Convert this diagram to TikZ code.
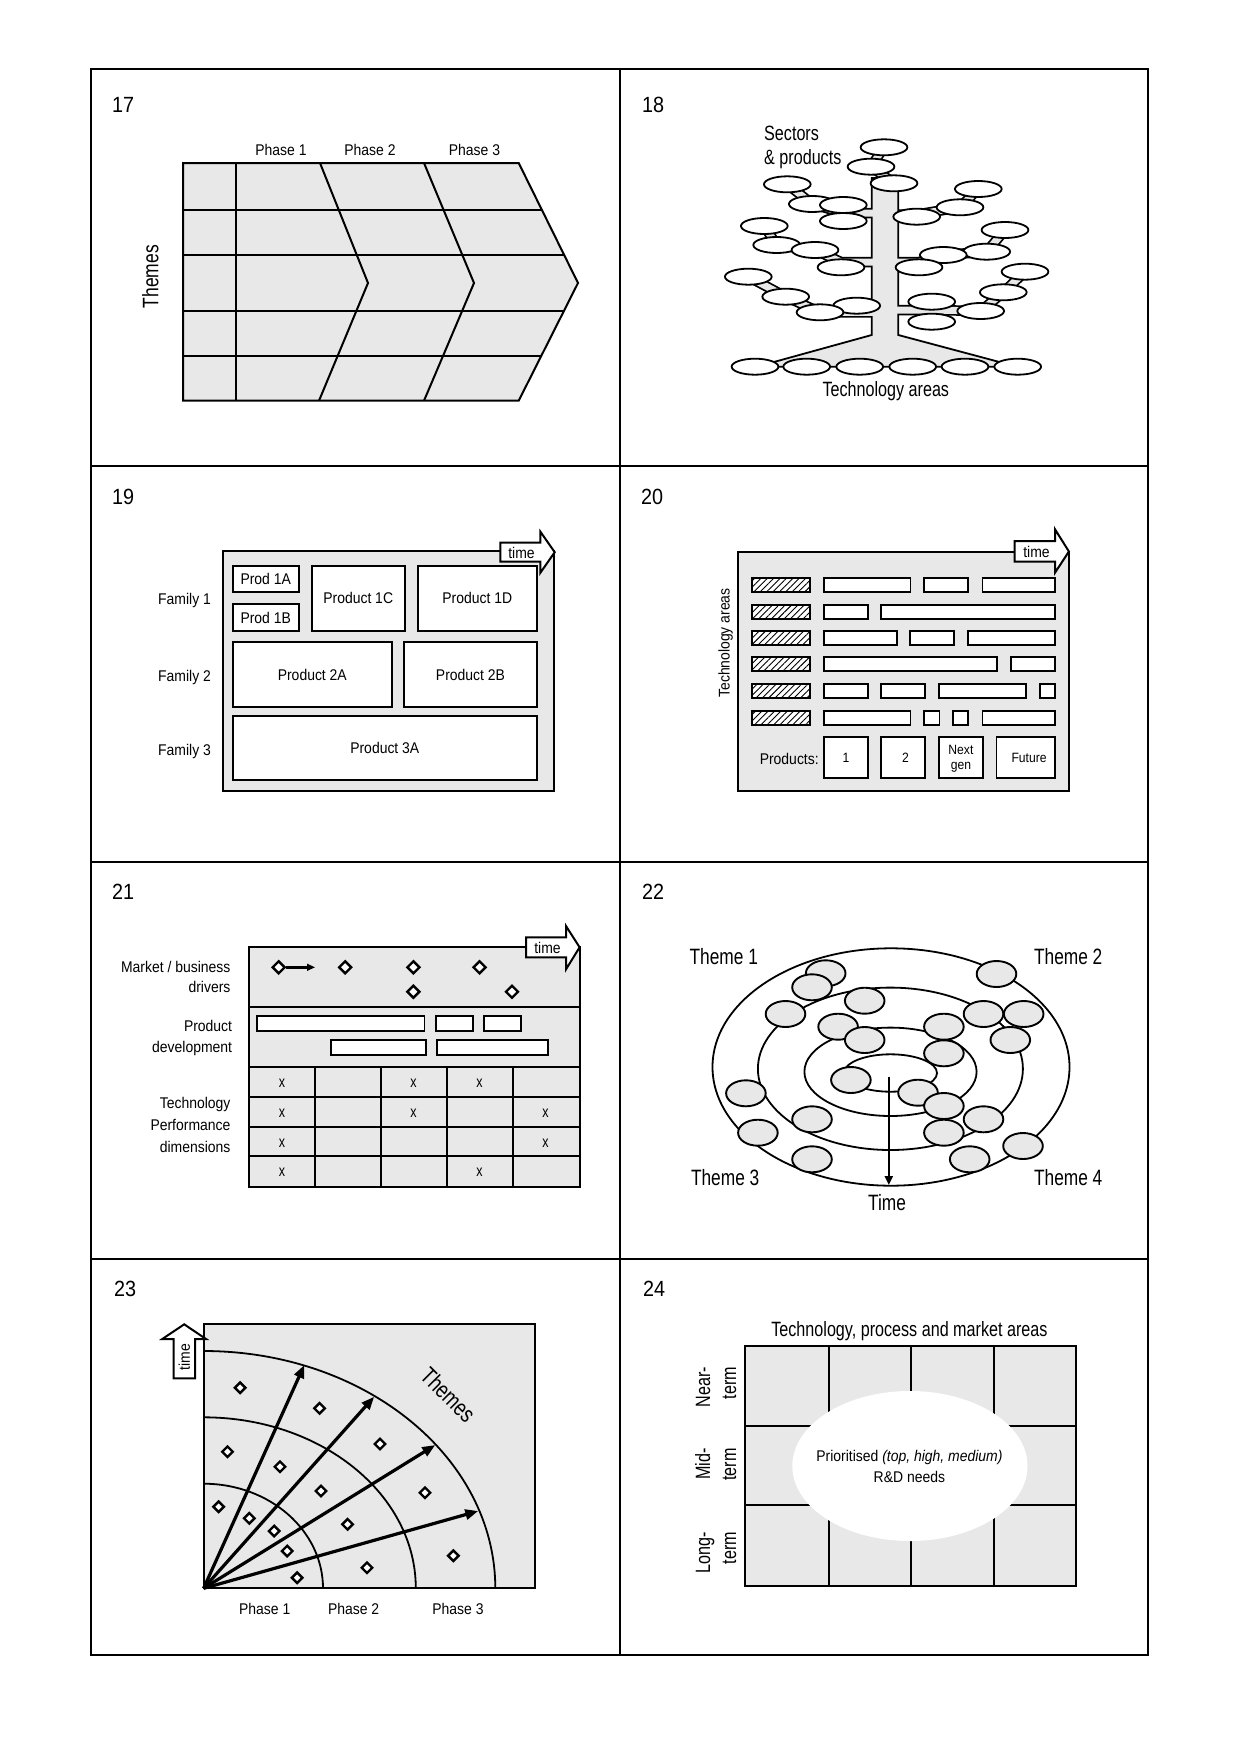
\documentclass[tikz,border=0pt]{standalone}
\usepackage{fontspec}
\setmainfont{Liberation Sans}[FakeStretch=0.9]
\newfontfamily\narrowfont{Liberation Sans}[FakeStretch=0.78]
\usetikzlibrary{shapes.geometric, arrows.meta, patterns.meta}
\definecolor{gfill}{RGB}{232,232,232}
\newcommand\treebranches[1]{%
 \draw[#1] (884,147.3) -- (871,166.7) -- (894,183.3);
 \draw[#1] (787.3,184.3) -- (812.3,204) -- (843.3,213) -- (885,213);
 \draw[#1] (764.3,226) -- (776.7,245) -- (815,250) -- (841,262) -- (885,262);
 \draw[#1] (748.3,276.7) -- (785.7,296.7) -- (820,312.3) -- (885,312.5);
 \draw[#1] (978.3,189) -- (960,207.3) -- (916.7,214.5) -- (885,214.5);
 \draw[#1] (1005,230) -- (986.7,251.7) -- (943.3,255) -- (919,262) -- (885,262);
 \draw[#1] (1025,271.7) -- (1003.3,292.3) -- (980.7,311) -- (931.7,310) -- (885,310);
}
\begin{document}
\begin{tikzpicture}[x=1pt,y=-1pt,
  frame/.style={line width=2},
  ln/.style={line width=2},
  gshape/.style={draw, line width=2, fill=gfill},
  lbl/.style={font=\fontsize{15.5}{18}\selectfont, text height=11.1pt, text depth=0pt, inner sep=0},
  sml/.style={font=\fontsize{13.5}{16}\selectfont, text height=9.7pt, text depth=0pt, inner sep=0},
  nar/.style={font=\narrowfont\fontsize{20.7}{24}\selectfont, text height=14.8pt, text depth=0pt, inner sep=0},
  narL/.style={font=\narrowfont\fontsize{22.2}{26}\selectfont, text height=15.9pt, text depth=0pt, inner sep=0},
  narX/.style={font=\narrowfont\fontsize{23.5}{27}\selectfont, text height=16.8pt, text depth=0pt, inner sep=0},
  xmk/.style={font=\narrowfont\fontsize{16}{18}\selectfont, text height=8.3pt, text depth=0pt, inner sep=0},
  num/.style={font=\fontsize{22}{26}\selectfont, text height=15.8pt, text depth=0pt, inner sep=0, anchor=west},
  wbox/.style={draw, line width=2, fill=white, inner sep=0, font=\fontsize{15.5}{18}\selectfont, text height=11.1pt, text depth=0pt},
  sbox/.style={draw, line width=1.8, fill=white, inner sep=0, font=\fontsize{13.5}{16}\selectfont, text height=9.7pt, text depth=0pt},
  bar/.style={draw, line width=1.8, fill=white},
  hatch/.style={draw, line width=1.8, preaction={fill=white}, pattern={Lines[angle=45,distance=4.5pt,line width=0.9pt]}},
  tarrow/.style={draw, line width=2, fill=white, line join=miter},
  band/.style={draw=black, line width=10.5, line join=round},
  bandin/.style={draw=gfill, line width=7, line join=round},
  e18/.style={ellipse, draw, line width=1.8, fill=white, minimum width=46.7, minimum height=16, inner sep=0},
  e22/.style={ellipse, draw, line width=1.9, fill=gfill, minimum width=39.6, minimum height=26, inner sep=0},
  dmd/.style={diamond, draw, line width=2.4, fill=white, minimum width=13, minimum height=13, inner sep=0},
  arr23/.style={line width=3.2, -{Triangle[length=13pt,width=10pt]}},
]
\useasboundingbox (0,0) rectangle (1240,1753);

% ---------- frame ----------
\draw[frame] (91,69) rectangle (1148,1655);
\draw[frame] (619.5,69) -- (619.5,1655);
\foreach \yy in {465.5,862,1258.5} \draw[frame] (91,\yy) -- (1148,\yy);

\node[num] (n17) at (112,104.7) {17};
\node[num] (n18) at (642,105) {18};
\node[num] (n19) at (112,496.7) {19};
\node[num] (n20) at (641,496.7) {20};
\node[num] (n21) at (112,891.7) {21};
\node[num] (n22) at (642,892) {22};
\node[num] (n23) at (114,1288.3) {23};
\node[num] (n24) at (643,1288.3) {24};

% ---------- 17 ----------
\path[gshape] (183,163) -- (518.7,163) -- (578,283) -- (518.7,400.7) -- (183,400.7) -- cycle;
\draw[ln] (235.7,163) -- (235.7,400.7);
\draw[ln] (320,163) -- (368,283) -- (319,400.7);
\draw[ln] (424,163) -- (474,283) -- (424,400.7);
\draw[ln] (183,210) -- (541.9,210);
\draw[ln] (183,255) -- (564.2,255);
\draw[ln] (183,310.7) -- (564,310.7);
\draw[ln] (183,356) -- (541.2,356);
\node[lbl] (ph171) at (281,150) {Phase 1};
\node[lbl] (ph172) at (370,150) {Phase 2};
\node[lbl] (ph173) at (474.5,150) {Phase 3};
\node[narL, rotate=90, font=\narrowfont\fontsize{22.4}{26}\selectfont] (th17) at (150.5,276.7) {Themes};

% ---------- 18 ----------
\treebranches{band}
\path[draw, line width=1.8, fill=gfill] (871.7,178) -- (871.7,335) -- (775,361.7) -- (775,366.7) -- (998.3,366.7) -- (998.3,361.7) -- (898.3,335) -- (898.3,178) -- cycle;
\treebranches{bandin}
\foreach \x/\y [count=\i] in {884/147.3, 871/166.7, 894/183.3, 787.3/184.3, 812.3/204, 843.3/205, 843.3/221,
  978.3/189, 960/207.3, 916.7/216.7, 764.3/226, 776.7/245, 815/250, 841/267.3,
  1005/230, 986.7/251.7, 943.3/255, 919/267.3, 748.3/276.7, 785.7/296.7, 856.7/305.7, 820/312.3,
  1025/271.7, 1003.3/292.3, 931.7/301.7, 980.7/311, 931.7/321.7}
  \node[e18] (tr\i) at (\x,\y) {};
\foreach \x [count=\i] in {755,806.7,859.7,912.7,965,1017.7}
  \node[e18] (tb\i) at (\x,366.7) {};
\node[nar, anchor=west] (sec) at (764,133.3) {Sectors};
\node[nar, anchor=west] (secp) at (764,157.3) {\& products};
\node[nar] (tec18) at (885.8,389) {Technology areas};

% ---------- 19 ----------
\path[gshape] (223.1,550.7) rectangle (554,790.7);
\node[wbox, minimum width=66.2, minimum height=26.3] (p1a) at (265.7,579.2) {Prod 1A};
\node[wbox, minimum width=66.2, minimum height=26.3] (p1b) at (265.7,617.5) {Prod 1B};
\node[wbox, minimum width=92.8, minimum height=64.7] (p1c) at (358.2,598.3) {Product 1C};
\node[wbox, minimum width=119.5, minimum height=64.7] (p1d) at (477.3,598.3) {Product 1D};
\node[wbox, minimum width=159.4, minimum height=65.3] (p2a) at (312.3,674.7) {Product 2A};
\node[wbox, minimum width=133.1, minimum height=65.3] (p2b) at (470.5,674.7) {Product 2B};
\node[wbox, minimum width=304.4, minimum height=64] (p3a) at (384.8,748) {Product 3A};
\path[tarrow] (500.4,542.7) -- (540.4,542.7) -- (540.4,531.7) -- (554.7,552.2) -- (540.4,572.7) -- (540.4,561.7) -- (500.4,561.7) -- cycle;
\node[lbl] (tm19) at (521.5,552.5) {time};
\node[lbl, anchor=east] (f1) at (211.1,599.3) {Family 1};
\node[lbl, anchor=east] (f2) at (211.1,676) {Family 2};
\node[lbl, anchor=east] (f3) at (211.1,750) {Family 3};

% ---------- 20 ----------
\path[gshape] (737.6,551.7) rectangle (1068.9,790.7);
\foreach \y in {585,611.7,638.3,664.3,691,717.7}
  \path[hatch] (752,\y-7) rectangle (810,\y+7);
\foreach \a/\b/\y in {824/910.5/585, 924.2/968.3/585, 982.4/1054.7/585,
  824/868.1/611.7, 881.2/1054.7/611.7,
  824/896.7/638.3, 910.1/954.2/638.3, 967.6/1054.7/638.3,
  824/997.2/664.3, 1011/1054.7/664.3,
  824/868.1/691, 881.2/924.9/691, 939/1025.8/691, 1039.6/1054.7/691,
  824/910.5/717.7, 924.2/939.4/717.7, 953.2/968.3/717.7, 982.4/1054.7/717.7}
  \path[bar] (\a,\y-7) rectangle (\b,\y+7);
\node[sbox, minimum width=44.1, minimum height=40.4] (pb1) at (846,757.5) {1};
\node[sbox, minimum width=43.7, minimum height=40.4] (pb2) at (903,757.5) {\hspace*{5pt}2};
\node[sbox, minimum width=43.8, minimum height=40.4] (pbn) at (960.9,757.5) {};
\node[sbox, minimum width=58.2, minimum height=40.4] (pbf) at (1025.6,757.5) {\hspace*{7pt}Future};
\node[sml] (nx) at (960.9,750) {Next};
\node[sml] (gn) at (960.9,765) {gen};
\node[lbl, anchor=east] (prs) at (818.9,759) {Products:};
\node[lbl, rotate=90] (tec20) at (724,643) {Technology areas};
\path[tarrow] (1014.5,541) -- (1055,541) -- (1055,529.3) -- (1068.9,551.5) -- (1055,572.7) -- (1055,561.7) -- (1014.5,561.7) -- cycle;
\node[lbl] (tm20) at (1036.5,551.5) {time};

% ---------- 21 ----------
\path[gshape] (248.6,947.3) rectangle (579.6,1186.7);
\draw[ln] (248.6,1006.7) -- (579.6,1006.7);
\draw[ln] (248.6,1066.7) -- (579.6,1066.7);
\foreach \yy in {1096.7,1126.7,1156} \draw[ln] (248.6,\yy) -- (579.6,\yy);
\foreach \xx in {315.2,381,446.9,513.1} \draw[ln] (\xx,1066.7) -- (\xx,1186.7);
\foreach \a/\b/\y in {257.2/424.4/1015.7, 436.3/472.8/1015.7, 484/520.9/1015.7, 331.2/426.1/1040, 437.3/547.9/1040}
  \path[bar] (\a,\y) rectangle (\b,\y+15);
\foreach \x/\y [count=\i] in {278.7/967.3, 345.2/967.3, 413.4/967.3, 479.6/967.3, 413.4/991.7, 512/991.7}
  \node[dmd] (md\i) at (\x,\y) {};
\coordinate (mdend) at (315.2,967.3);
\draw[line width=2.5, -{Triangle[length=8pt,width=6.5pt]}] (md1.east) -- (mdend);
\foreach \x/\y [count=\i] in {282/1083.3, 413.4/1083.3, 479.6/1083.3,
  282/1113.3, 413.4/1113.3, 545.5/1113.3,
  282/1143.3, 545.5/1143.3,
  282/1172.7, 479.6/1172.7}
  \node[xmk] (xm\i) at (\x,\y) {x};
\path[tarrow] (526,937.3) -- (566,937.3) -- (566,926) -- (579.6,947.3) -- (566,969.3) -- (566,957.3) -- (526,957.3) -- cycle;
\node[lbl] (tm21) at (547.5,947.5) {time};
\node[lbl, anchor=east] (mb) at (230.6,966.7) {Market / business};
\node[lbl, anchor=east] (drv) at (230.6,987.3) {drivers};
\node[lbl, anchor=east] (prd) at (232.3,1025.7) {Product};
\node[lbl, anchor=east] (dev) at (232.3,1046.7) {development};
\node[lbl, anchor=east] (tch) at (230.6,1103.3) {Technology};
\node[lbl, anchor=east] (pfm) at (230.6,1125) {Performance};
\node[lbl, anchor=east] (dim) at (230.6,1146.7) {dimensions};

% ---------- 22 ----------
\draw[line width=1.8] (891,1067) ellipse [x radius=178.5pt, y radius=118.7pt];
\draw[line width=1.8] (890.4,1068.8) ellipse [x radius=132.5pt, y radius=81.2pt];
\draw[line width=1.8] (890.5,1071.8) ellipse [x radius=86.1pt, y radius=44.2pt];
\draw[line width=1.8] (890.5,1073) ellipse [x radius=46.5pt, y radius=18.7pt];
\foreach \x/\y [count=\i] in {825.7/973.3, 812/987.3, 996.5/974, 864.7/1000.7, 785.5/1014, 983.5/1014,
  1023.7/1014, 838.1/1026.7, 943.9/1026.7, 1010.3/1040, 864.7/1040, 943.9/1053.3, 850.9/1080,
  918/1092.7, 745.9/1093.3, 943.9/1106, 812/1119.3, 983.5/1119.3, 757.9/1132.7, 943.9/1132.7,
  1023/1146, 812/1159.3, 969.7/1159.3}
  \node[e22] (s\i) at (\x,\y) {};
\coordinate (tms) at (888.8,1076.7);
\coordinate (tme) at (888.8,1185);
\draw[line width=2.5, -{Triangle[length=9pt,width=8pt]}] (tms) -- (tme);
\node[narL] (tim) at (887,1202.5) {Time};
\node[narL] (th1) at (723.8,956.7) {Theme 1};
\node[narL] (th2) at (1068.2,956.7) {Theme 2};
\node[narL] (th3) at (725.2,1177.7) {Theme 3};
\node[narL] (th4) at (1068.2,1177.7) {Theme 4};

% ---------- 23 ----------
\path[gshape] (203.6,1324.3) rectangle (534.6,1588.3);
\draw[line width=1.8] (323,1588.3) arc[start angle=0, end angle=90, x radius=119.4pt, y radius=104.6pt];
\draw[line width=1.8] (415.8,1588.3) arc[start angle=0, end angle=90, x radius=212.2pt, y radius=171pt];
\draw[line width=1.8] (495.3,1588.3) arc[start angle=0, end angle=90, x radius=291.7pt, y radius=237.3pt];
\foreach \x/\y [count=\i] in {240.1/1387.7, 319.6/1408.3, 227.5/1451.7, 280/1466.7, 380/1444,
  321/1491, 425/1492.7, 218.6/1506.7, 249.3/1518.3, 274.2/1531, 347.6/1524.3, 287.2/1551,
  453.4/1555.7, 367/1567.7, 297.1/1577.7}
  \node[dmd, minimum width=11.5, minimum height=11.5] (q\i) at (\x,\y) {};
\coordinate (o23) at (203.6,1588.3);
\coordinate (a1) at (304.3,1365);
\coordinate (a2) at (374.2,1396.7);
\coordinate (a3) at (435.3,1445);
\coordinate (a4) at (478.3,1511);
\draw[arr23] (o23) -- (a1);
\draw[arr23] (o23) -- (a2);
\draw[arr23] (o23) -- (a3);
\draw[arr23] (o23) -- (a4);
\path[tarrow] (173.6,1378.3) -- (173.6,1339) -- (162.3,1339) -- (184.2,1324.3) -- (206,1339) -- (195.1,1339) -- (195.1,1378.3) -- cycle;
\node[lbl, rotate=90] (tm23) at (184.2,1357) {time};
\node[narX, rotate=-45] (th23) at (448.2,1395) {Themes};
\node[lbl] (ph231) at (264.7,1609) {Phase 1};
\node[lbl] (ph232) at (353.6,1609) {Phase 2};
\node[lbl] (ph233) at (458,1609) {Phase 3};

% ---------- 24 ----------
\fill[gfill] (745.2,1346) rectangle (1076.4,1585.7);
\foreach \xx in {828.5,911.1,993.8} \draw[ln] (\xx,1346) -- (\xx,1585.7);
\foreach \yy in {1426,1505} \draw[ln] (745.2,\yy) -- (1076.4,\yy);
\fill[white] (909.9,1466) ellipse [x radius=117.6pt, y radius=75pt];
\draw[ln] (745.2,1346) rectangle (1076.4,1585.7);
\node[lbl] (pri) at (909.4,1456) {Prioritised \textit{(top, high, medium)}};
\node[lbl] (rdn) at (909.4,1476.7) {R\&D needs};
\node[nar] (tpm) at (909.4,1328.8) {Technology, process and market areas};
\node[nar, rotate=90, anchor=east] (nr1) at (702.8,1366.7) {Near-};
\node[nar, rotate=90, anchor=east] (nr2) at (728.6,1366.7) {term};
\node[nar, rotate=90, anchor=east] (md1) at (702.8,1448) {Mid-};
\node[nar, rotate=90, anchor=east] (md2) at (728.6,1448) {term};
\node[nar, rotate=90, anchor=east] (lg1) at (702.8,1531.7) {Long-};
\node[nar, rotate=90, anchor=east] (lg2) at (728.6,1531.7) {term};
\end{tikzpicture}
\end{document}
